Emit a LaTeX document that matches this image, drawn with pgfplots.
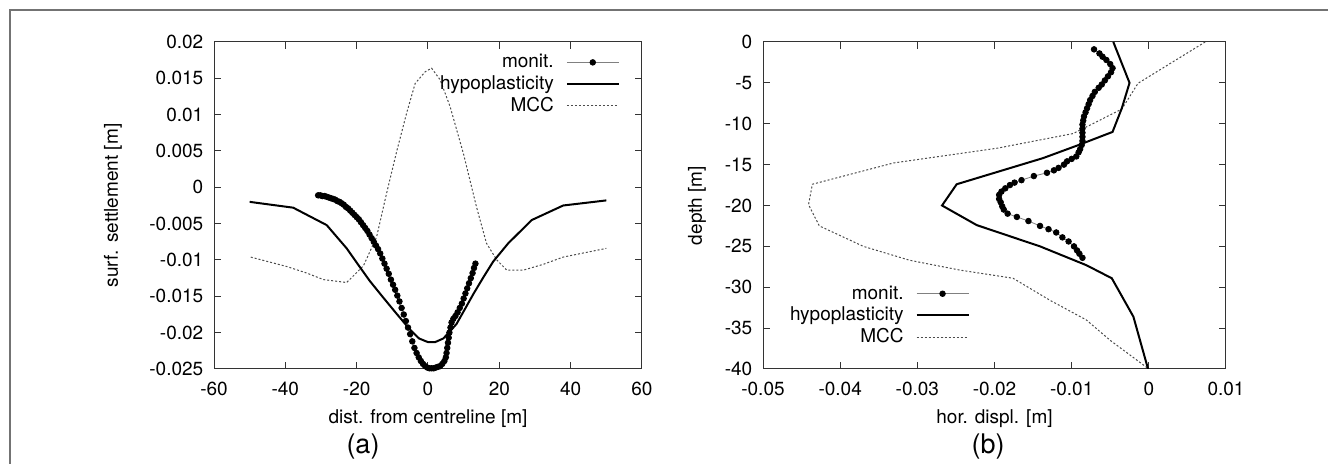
\documentclass[border=0pt]{standalone}
\usepackage{fontspec}
\setmainfont{TeX Gyre Heros}
\usepackage{pgfplots}
\pgfplotsset{compat=1.18}
\begin{document}
\fontsize{9.5}{11.4}\selectfont
\begin{tikzpicture}
\useasboundingbox (0pt,0pt) rectangle (664pt,232pt);
\draw[black!55, line width=0.75pt] (5pt,-5pt) -- (5pt,227pt) -- (670pt,227pt);
\pgfplotsset{
  common/.style={
    scale only axis, anchor=south west,
    height=163.5pt,
    scaled x ticks=false, scaled y ticks=false,
    axis line style={black!80, line width=0.5pt},
    tick style={black!80, line width=0.5pt},
    major tick length=3.3pt,
    tick align=inside,
    tick label style={font=\fontsize{9.5}{11}\selectfont},
    yticklabel style={xshift=-2pt},
    xticklabel style={yshift=-3pt},
    label style={font=\fontsize{9.5}{11}\selectfont},
    legend cell align=right,
    legend plot pos=right,
    reverse legend,
    legend style={draw=none, fill=none, font=\fontsize{9.5}{11}\selectfont, inner sep=0pt, row sep=-1.5pt, column sep=4pt, cells={anchor=east}},
    legend image code/.code={\draw[mark repeat=2,mark phase=2,##1] plot coordinates {(0pt,0pt) (13pt,0pt) (26pt,0pt)};},
  },
  monit/.style={draw=black!50, line width=0.4pt, mark=*, mark size=1.4pt, mark options={draw=black, fill=black, solid}},
  hypo/.style={black, line width=1pt, no marks},
  mcc/.style={black!70, line width=0.5pt, dash pattern=on 1pt off 1pt, no marks},
}
% ---------------- (a)
\begin{axis}[common,
  at={(107pt,47.5pt)}, width=214pt,
  xmin=-60, xmax=60, ymin=-0.025, ymax=0.02,
  xtick={-60,-40,-20,0,20,40,60},
  xticklabels={-60,-40,-20,0,20,40,60},
  ytick={-0.025,-0.02,-0.015,-0.01,-0.005,0,0.005,0.01,0.015,0.02},
  yticklabels={-0.025,-0.02,-0.015,-0.01,-0.005,0,0.005,0.01,0.015,0.02},
  xlabel={dist. from centreline [m]},
  ylabel={surf. settlement [m]},
  x label style={at={(axis description cs:0.5,-0.153)}, anchor=center},
  y label style={at={(axis description cs:-0.236,0.5)}, anchor=center, rotate=0},
  legend style={at={(0.949,0.976)}, anchor=north east},
]
\addplot[mcc] coordinates {
(-49.7,-0.0096) (-39.6,-0.0109) (-34,-0.0118) (-29.3,-0.0127) (-22.8,-0.0131)
(-18.1,-0.0108) (-14.4,-0.0068) (-11.6,-0.0008) (-8.8,0.0049) (-6,0.0102)
(-3.6,0.0143) (-0.8,0.0159) (1,0.0164) (3.4,0.0148) (6.2,0.0111) (9.9,0.0047)
(13.6,-0.0027) (16.4,-0.0077) (19.3,-0.0100) (22.1,-0.0114) (26.7,-0.0114)
(32.3,-0.0106) (37.9,-0.0096) (50,-0.0084)};
\addlegendentry{MCC}
\addplot[hypo] coordinates {
(-50,-0.0020) (-37.8,-0.0028) (-28.4,-0.0052) (-22.8,-0.0084) (-19.5,-0.0107)
(-16.3,-0.0129) (-12.5,-0.0152) (-8.8,-0.0174) (-5,-0.0196) (-2.5,-0.0208)
(0,-0.0213) (2,-0.0213) (4.3,-0.0208) (6,-0.0199) (8,-0.0188) (10.3,-0.0168)
(12.7,-0.0147) (15.5,-0.0124) (18.3,-0.0102) (22.5,-0.0077) (29.1,-0.0045)
(37.9,-0.0025) (50,-0.0018)};
\addlegendentry{hypoplasticity}
\addplot[monit] coordinates {
(-30.8,-0.0011) (-30.2,-0.0011) (-29.6,-0.0012) (-29.0,-0.0012) (-28.4,-0.0013)
(-27.8,-0.0014) (-27.2,-0.0015) (-26.6,-0.0016) (-26.0,-0.0017) (-25.4,-0.0019)
(-24.8,-0.0020) (-24.2,-0.0022) (-23.6,-0.0024) (-23.0,-0.0027) (-22.4,-0.0029)
(-21.8,-0.0032) (-21.2,-0.0035) (-20.6,-0.0038) (-20.0,-0.0041) (-19.4,-0.0044)
(-18.8,-0.0048) (-18.2,-0.0052) (-17.6,-0.0056) (-17.0,-0.0060) (-16.4,-0.0065)
(-15.8,-0.0070) (-15.2,-0.0075) (-14.6,-0.0080) (-14.0,-0.0085) (-13.4,-0.0091)
(-12.8,-0.0098) (-12.2,-0.0105) (-11.6,-0.0112) (-11.0,-0.0119) (-10.4,-0.0127)
(-9.8,-0.0134) (-9.2,-0.0141) (-8.6,-0.0149) (-8.0,-0.0157) (-7.4,-0.0166)
(-6.8,-0.0175) (-6.2,-0.0184) (-5.6,-0.0193) (-5.0,-0.0202) (-4.4,-0.0212)
(-3.8,-0.0221) (-3.2,-0.0228) (-2.6,-0.0234) (-2.0,-0.0239) (-1.4,-0.0243)
(-0.8,-0.0246) (-0.2,-0.0248) (0.4,-0.0249) (1.0,-0.0249) (1.6,-0.0249)
(2.2,-0.0248) (2.8,-0.0247) (3.4,-0.0246) (4.0,-0.0243) (4.6,-0.0239)
(5.0,-0.0234) (5.2,-0.0228) (5.4,-0.0221) (5.6,-0.0214) (5.8,-0.0207)
(6.0,-0.0200) (6.3,-0.0193) (6.6,-0.0186) (7.1,-0.0181) (7.7,-0.0177)
(8.3,-0.0172) (8.9,-0.0166) (9.5,-0.0160) (10.0,-0.0153) (10.5,-0.0146)
(11.0,-0.0139) (11.5,-0.0132) (12.0,-0.0125) (12.5,-0.0118) (12.9,-0.0111)
(13.3,-0.0105)};
\addlegendentry{monit.}
\end{axis}
% ---------------- (b)
\begin{axis}[common,
  at={(381.5pt,47.5pt)}, width=231.5pt,
  xmin=-0.05, xmax=0.01, ymin=-40, ymax=0,
  xtick={-0.05,-0.04,-0.03,-0.02,-0.01,0,0.01},
  xticklabels={-0.05,-0.04,-0.03,-0.02,-0.01,0,0.01},
  ytick={-40,-35,-30,-25,-20,-15,-10,-5,0},
  yticklabels={-40,-35,-30,-25,-20,-15,-10,-5,0},
  xlabel={hor. displ. [m]},
  ylabel={depth [m]},
  x label style={at={(axis description cs:0.5,-0.153)}, anchor=center},
  y label style={at={(axis description cs:-0.1425,0.5)}, anchor=center, rotate=0},
  legend style={at={(0.447,0.058)}, anchor=south east},
]
\addplot[mcc] coordinates {
(0.0073,0) (-0.0014,-5.05) (-0.0035,-8.2) (-0.0081,-10.4) (-0.0098,-11.2)
(-0.0197,-13.0) (-0.0331,-14.8) (-0.0436,-17.4) (-0.0441,-19.9) (-0.0427,-22.5)
(-0.0370,-25.0) (-0.0310,-26.7) (-0.0245,-27.9) (-0.0176,-28.9) (-0.0128,-31.6)
(-0.0081,-34.0) (-0.0050,-36.5) (0,-40)};
\addlegendentry{MCC}
\addplot[hypo] coordinates {
(-0.0046,0) (-0.0025,-5) (-0.0035,-8.1) (-0.0047,-11) (-0.0091,-12.6)
(-0.0137,-14.2) (-0.0249,-17.4) (-0.0268,-20) (-0.0223,-22.4) (-0.0141,-25.0)
(-0.0081,-27.3) (-0.0048,-28.9) (-0.0020,-33.6) (-0.0001,-40)};
\addlegendentry{hypoplasticity}
\addplot[monit] coordinates {
(-0.0071,-0.9) (-0.0064,-1.4) (-0.0060,-1.8) (-0.0055,-2.2) (-0.0050,-2.7)
(-0.0047,-3.2) (-0.0049,-3.7) (-0.0053,-4.2) (-0.0057,-4.7) (-0.0061,-5.2)
(-0.0065,-5.6) (-0.0070,-6.1) (-0.0073,-6.6) (-0.0076,-7.1) (-0.0078,-7.6)
(-0.0080,-8.1) (-0.0082,-8.6) (-0.0084,-9.1) (-0.0085,-9.6) (-0.0086,-10.1)
(-0.0086,-10.6) (-0.0086,-11.1) (-0.0086,-11.6) (-0.0086,-12.1) (-0.0087,-12.6)
(-0.0089,-13.1) (-0.0091,-13.5) (-0.0094,-14.0) (-0.0100,-14.3) (-0.0106,-14.6)
(-0.0110,-15.0) (-0.0117,-15.4) (-0.0123,-15.7) (-0.0132,-16.0) (-0.0149,-16.4)
(-0.0165,-16.9) (-0.0174,-17.2) (-0.0180,-17.5) (-0.0186,-17.9) (-0.0191,-18.3)
(-0.0194,-18.7) (-0.0194,-19.2) (-0.0192,-19.6) (-0.0190,-20.1) (-0.0188,-20.5)
(-0.0183,-21.0) (-0.0171,-21.4) (-0.0156,-21.9) (-0.0141,-22.5) (-0.0130,-22.9)
(-0.0120,-23.3) (-0.0112,-23.9) (-0.0104,-24.4) (-0.0097,-25.0) (-0.0093,-25.5)
(-0.0090,-25.9) (-0.0086,-26.4)};
\addlegendentry{monit.}
\end{axis}
\node[font=\fontsize{13.5}{16}\selectfont] at (181.5pt,8.5pt) {(a)};
\node[font=\fontsize{13.5}{16}\selectfont] at (494pt,8.5pt) {(b)};
\end{tikzpicture}
\end{document}
